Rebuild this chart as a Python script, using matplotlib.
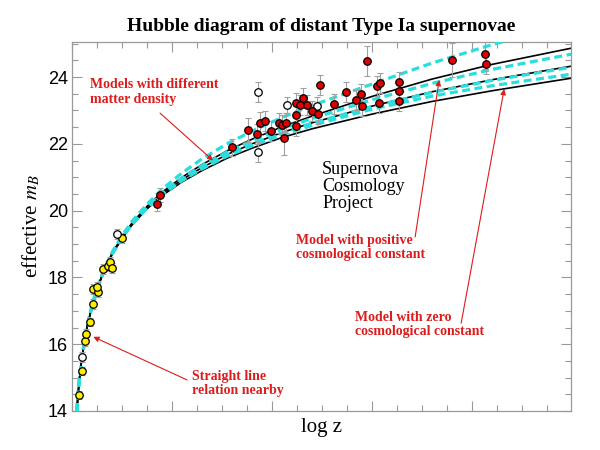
import numpy as np
import matplotlib.pyplot as plt
from matplotlib.ticker import MultipleLocator

plt.rcParams['font.family'] = 'Liberation Serif'
plt.rcParams['mathtext.fontset'] = 'stix'

# model curves (x in arbitrary "log z" units)
zx = [0.04, 0.06, 0.08, 0.1, 0.15, 0.2, 0.25, 0.3, 0.4, 0.5, 0.6, 0.75, 0.9,
      1.1, 1.3, 1.55, 1.8, 2.1, 2.4, 3.0, 3.6, 4.2, 5.0]
black_top = [13.62, 14.50, 15.12, 15.61, 16.51, 17.14, 17.65, 18.06, 18.72, 19.21, 19.63, 20.13, 20.55,
             21.00, 21.38, 21.79, 22.14, 22.51, 22.83, 23.42, 23.94, 24.38, 24.87]
black_mid = [13.62, 14.50, 15.12, 15.61, 16.51, 17.14, 17.64, 18.05, 18.70, 19.19, 19.60, 20.09, 20.50,
             20.93, 21.29, 21.68, 22.00, 22.34, 22.63, 23.13, 23.56, 23.92, 24.33]
black_bot = [13.62, 14.50, 15.12, 15.61, 16.51, 17.14, 17.63, 18.04, 18.68, 19.17, 19.57, 20.05, 20.45,
             20.86, 21.20, 21.57, 21.87, 22.19, 22.45, 22.89, 23.27, 23.59, 23.97]
cyan_1 = [13.62, 14.50, 15.12, 15.62, 16.53, 17.16, 17.67, 18.08, 18.75, 19.25, 19.68, 20.19, 20.64,
          21.13, 21.55, 22.00, 22.38, 22.79, 23.15, 23.79, 24.42, 24.97, 25.63]
cyan_2 = [13.62, 14.50, 15.12, 15.61, 16.52, 17.15, 17.65, 18.06, 18.72, 19.21, 19.62, 20.12, 20.54,
          20.98, 21.35, 21.76, 22.09, 22.45, 22.76, 23.32, 23.81, 24.23, 24.69]
cyan_3 = [13.62, 14.50, 15.12, 15.61, 16.51, 17.14, 17.64, 18.05, 18.70, 19.19, 19.60, 20.09, 20.49,
          20.92, 21.28, 21.67, 21.99, 22.33, 22.62, 23.12, 23.54, 23.90, 24.30]
cyan_4 = [13.62, 14.50, 15.12, 15.61, 16.51, 17.14, 17.64, 18.05, 18.69, 19.18, 19.59, 20.08, 20.48,
          20.90, 21.25, 21.63, 21.94, 22.27, 22.55, 23.04, 23.43, 23.74, 24.09]

# nearby supernovae (yellow)
near_x = [0.07, 0.097, 0.13, 0.137, 0.18, 0.213, 0.213, 0.257, 0.247, 0.313, 0.357, 0.38, 0.397, 0.50]
near_m = [14.48, 15.21, 16.10, 16.30, 16.67, 17.20, 17.64, 17.55, 17.70, 18.26, 18.35, 18.47, 18.29, 19.19]
near_err = [0.12, 0.12, 0.15, 0.15, 0.12, 0.15, 0.15, 0.15, 0.15, 0.15, 0.15, 0.15, 0.15, 0.15]

# open circles
open_x = [0.097, 0.447, 1.86, 1.86, 2.15, 2.45]
open_m = [15.61, 19.29, 23.56, 21.75, 23.16, 23.14]
open_err = [0.15, 0.15, 0.3, 0.3, 0.25, 0.25]

# distant supernovae (red)
far_x = [0.85, 0.88, 1.60, 1.76, 1.85, 1.88, 1.93, 1.99, 2.07, 2.10, 2.14, 2.12, 2.24, 2.28, 2.24,
         2.24, 2.31, 2.35, 2.40, 2.46, 2.48, 2.62, 2.74, 2.84, 2.89, 2.90, 3.05, 3.08, 3.07, 3.27,
         3.27, 3.27, 2.95, 3.80, 4.13, 4.14]
far_m = [20.19, 20.47, 21.90, 22.41, 22.29, 22.61, 22.69, 22.39, 22.63, 22.56, 22.61, 22.16, 23.21,
         23.16, 22.86, 22.54, 23.38, 23.16, 22.98, 22.88, 23.76, 23.18, 23.55, 23.31, 23.50, 23.13,
         23.73, 23.83, 23.23, 23.86, 23.59, 23.29, 24.48, 24.51, 24.69, 24.38]
far_err = [0.2, 0.2, 0.25, 0.35, 0.3, 0.35, 0.3, 0.3, 0.3, 0.3, 0.3, 0.5, 0.3, 0.3, 0.35, 0.3, 0.3,
           0.3, 0.3, 0.3, 0.3, 0.3, 0.3, 0.3, 0.3, 0.3, 0.3, 0.3, 0.3, 0.3, 0.3, 0.3, 0.45, 0.5, 0.45, 0.3]

red = '#dd1c1c'
cyan = '#2adede'

fig = plt.figure(figsize=(6, 4.5), dpi=100)
ax = fig.add_axes([0.12, 0.0867, 0.832, 0.82])

for m in [black_top, black_mid, black_bot]:
    ax.plot(zx, m, color='black', lw=1.2, zorder=2)
for m in [cyan_1, cyan_2, cyan_3, cyan_4]:
    ax.plot(zx, m, color=cyan, lw=2.3, ls=(0, (2.5, 1.4)), zorder=3)

eb = dict(fmt='none', ecolor='#a0a0a0', elinewidth=0.8, capsize=2.5, capthick=0.8, zorder=4)
ax.errorbar(near_x, near_m, yerr=near_err, **eb)
ax.errorbar(open_x, open_m, yerr=open_err, **eb)
ax.errorbar(far_x, far_m, yerr=far_err, **eb)
mk = dict(ls='none', marker='o', ms=5.4, mec='black', mew=0.9, zorder=5)
ax.plot(near_x, near_m, mfc='#ffee00', **mk)
ax.plot(open_x, open_m, mfc='white', **mk)
ax.plot(far_x, far_m, mfc='#e00000', **mk)

ax.set_xlim(0, 4.99)
ax.set_ylim(14, 25.05)
ax.xaxis.set_major_locator(MultipleLocator(1))
ax.xaxis.set_minor_locator(MultipleLocator(0.25))
ax.yaxis.set_major_locator(MultipleLocator(2))
ax.yaxis.set_minor_locator(MultipleLocator(0.5))
ax.tick_params(which='both', direction='in', top=True, right=True, color='#999999', width=0.8)
ax.tick_params(which='major', length=7)
ax.tick_params(which='minor', length=4)
ax.tick_params(axis='x', labelbottom=False)
ax.tick_params(axis='y', labelsize=13, pad=3)
for lab in ax.get_yticklabels():
    lab.set_family('Liberation Sans')
for s in ax.spines.values():
    s.set_color('#999999')
    s.set_linewidth(0.9)

ax.set_xlabel('log z', fontsize=15, labelpad=2)
ax.set_ylabel('effective $m_B$', fontsize=15, labelpad=4)
ax.set_title('Hubble diagram of distant Type Ia supernovae', fontsize=14,
             fontweight='bold', pad=8)

ax.text(2.5, 21.5, 'Supernova\nCosmology\nProject', fontsize=13, va='top', ha='left',
        linespacing=1.0)

tk = dict(color=red, fontsize=10, fontweight='bold', va='top', ha='left', linespacing=1.15)
ap = dict(arrowstyle='-|>', color=red, lw=0.8, mutation_scale=8, shrinkA=0, shrinkB=0)
ax.text(0.18, 23.97, 'Models with different\nmatter density', **tk)
ax.annotate('', xy=(1.41, 21.5), xytext=(0.88, 22.92), arrowprops=ap)
ax.text(2.24, 19.3, 'Model with positive\ncosmological constant', **tk)
ax.annotate('', xy=(3.67, 23.91), xytext=(3.43, 19.21), arrowprops=ap)
ax.text(2.83, 17.0, 'Model with zero\ncosmological constant', **tk)
ax.annotate('', xy=(4.32, 23.64), xytext=(3.89, 16.63), arrowprops=ap)
ax.text(1.2, 15.23, 'Straight line\nrelation nearby', **tk)
ax.annotate('', xy=(0.213, 16.22), xytext=(1.15, 14.93), arrowprops=ap)

plt.savefig('out.png', dpi=100)
